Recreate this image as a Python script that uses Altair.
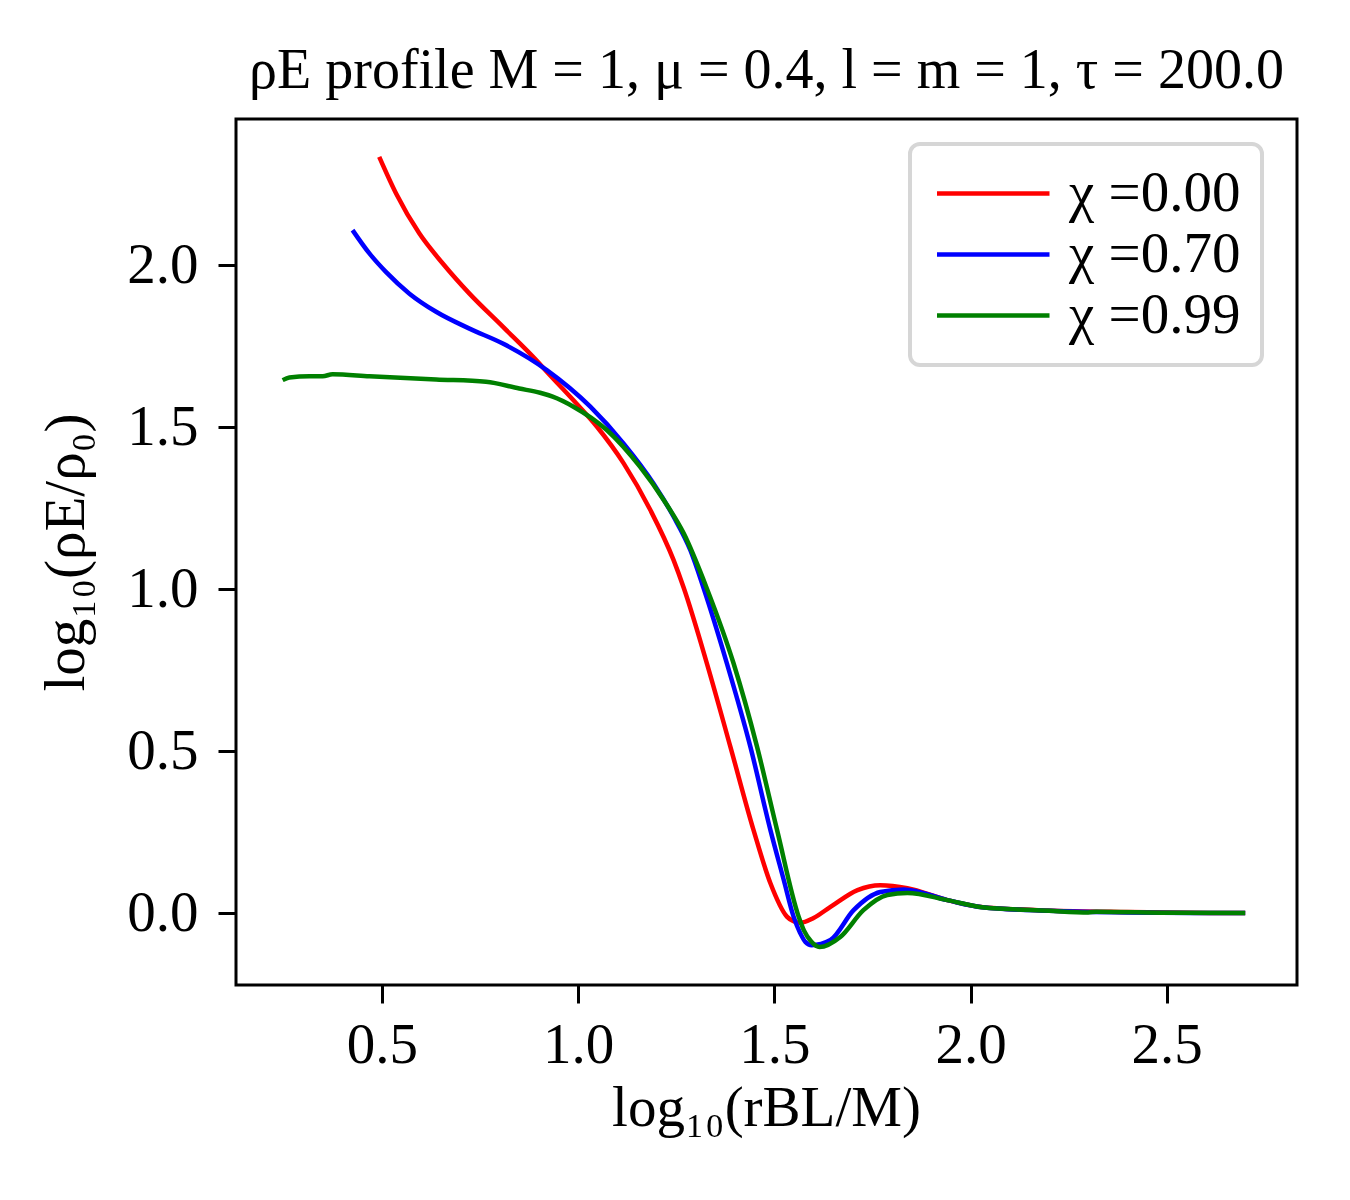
import altair as alt
import pandas as pd

# ---- data ----
x_chi000 = [0.493, 0.536, 0.595, 0.655, 0.723, 0.808, 0.893, 0.920, 0.988, 1.048, 1.116,
            1.184, 1.243, 1.269, 1.328, 1.388, 1.447, 1.490, 1.532, 1.550, 1.566, 1.600,
            1.643, 1.712, 1.770, 1.839, 1.941, 2.026, 2.196, 2.400, 2.700]
y_chi000 = [2.334, 2.221, 2.098, 2.005, 1.912, 1.810, 1.707, 1.671, 1.583, 1.501, 1.388,
            1.244, 1.090, 1.004, 0.771, 0.513, 0.256, 0.092, -0.011, -0.026, -0.030, -0.015,
            0.019, 0.071, 0.086, 0.077, 0.040, 0.019, 0.008, 0.003, 0.000]

x_chi070 = [0.425, 0.468, 0.510, 0.570, 0.638, 0.723, 0.808, 0.920, 1.031, 1.116, 1.192,
            1.243, 1.286, 1.320, 1.379, 1.439, 1.490, 1.524, 1.549, 1.566, 1.579, 1.595,
            1.643, 1.702, 1.770, 1.830, 1.941, 2.030, 2.200, 2.400, 2.700]
y_chi070 = [2.108, 2.036, 1.979, 1.912, 1.856, 1.804, 1.758, 1.676, 1.563, 1.449, 1.326,
            1.224, 1.120, 1.002, 0.771, 0.513, 0.256, 0.102, -0.011, -0.062, -0.089, -0.099,
            -0.083, 0.009, 0.065, 0.073, 0.040, 0.018, 0.007, 0.002, 0.000]

x_chi099 = [0.247, 0.264, 0.315, 0.349, 0.374, 0.468, 0.638, 0.765, 0.850, 0.903, 0.935,
            0.988, 1.073, 1.158, 1.218, 1.269, 1.328, 1.396, 1.456, 1.507, 1.562,
            1.576, 1.594, 1.615, 1.668, 1.727, 1.788, 1.839, 1.941, 2.030, 2.200, 2.300,
            2.320, 2.500, 2.700]
y_chi099 = [1.645, 1.653, 1.657, 1.657, 1.663, 1.657, 1.647, 1.640, 1.619, 1.606, 1.594,
            1.563, 1.491, 1.377, 1.275, 1.172, 1.002, 0.771, 0.513, 0.256, -0.011,
            -0.055, -0.088, -0.105, -0.074, 0.009, 0.056, 0.062, 0.040, 0.018, 0.007, 0.002,
            0.004, 0.001, 0.000]

series_labels = ["χ =0.00", "χ =0.70", "χ =0.99"]
series_colors = ["#ff0000", "#0000ff", "#008000"]
x_ticks = [0.5, 1.0, 1.5, 2.0, 2.5]
y_ticks = [0.0, 0.5, 1.0, 1.5, 2.0]

rows = []
for lab, xs, ys in zip(series_labels, [x_chi000, x_chi070, x_chi099],
                       [y_chi000, y_chi070, y_chi099]):
    for i, (xv, yv) in enumerate(zip(xs, ys)):
        rows.append({"series": lab, "x": xv, "y": yv, "order": i})
df = pd.DataFrame(rows)

FONT = "Liberation Serif"

chart = alt.Chart(df).mark_line(strokeWidth=4.5, interpolate="monotone").encode(
    x=alt.X("x:Q",
            scale=alt.Scale(domain=[0.128, 2.832], nice=False, zero=False),
            axis=alt.Axis(values=x_ticks, format=".1f", title="log₁₀(rBL/M)",
                          titleX=530, titleY=140, titleBaseline="alphabetic",
                          titleAlign="center", labelPadding=14)),
    y=alt.Y("y:Q",
            scale=alt.Scale(domain=[-0.222, 2.451], nice=False, zero=False),
            axis=alt.Axis(values=y_ticks, format=".1f", title="log₁₀(ρE/ρ₀)",
                          titleX=-153, titleY=433, titleBaseline="alphabetic",
                          titleAlign="center", titleAngle=270, labelPadding=20)),
    color=alt.Color("series:N",
                    scale=alt.Scale(domain=series_labels, range=series_colors),
                    legend=alt.Legend(title=None, orient="none", legendX=674, legendY=25,
                                      symbolType="M-1,0H4", symbolSize=2025,
                                      symbolStrokeWidth=4.5, labelOffset=81,
                                      labelFont=FONT, labelFontSize=57, labelLimit=500,
                                      rowPadding=3, padding=21,
                                      strokeColor="#d6d6d6", fillColor="white",
                                      cornerRadius=10)),
    order="order:Q",
).properties(
    width=1061,
    height=866,
    title=alt.TitleParams("ρE profile M = 1, μ = 0.4, l = m = 1, τ = 200.0",
                          font=FONT, fontSize=56, fontWeight="normal",
                          anchor="middle", offset=31, dy=56, baseline="alphabetic",
                          color="black"),
    autosize=alt.AutoSizeParams(type="none"),
    padding={"left": 228, "top": 111, "right": 45, "bottom": 200},
).configure_view(
    stroke="black", strokeWidth=3
).configure_axis(
    domain=False, grid=False,
    tickSize=18, tickWidth=3, tickColor="black",
    labelFont=FONT, labelFontSize=57, labelColor="black",
    titleFont=FONT, titleFontSize=57, titleFontWeight="normal", titleColor="black",
).configure_legend(
    strokeWidth=4
)

chart.save("out.html", embed_options={"renderer": "svg", "actions": False})
